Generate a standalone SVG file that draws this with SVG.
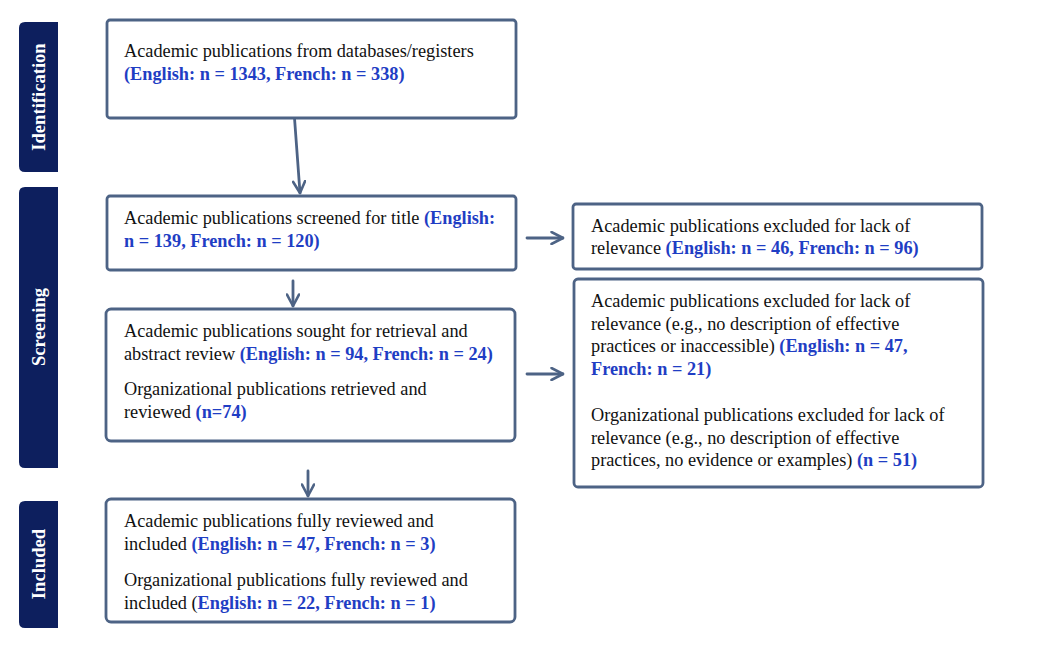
<svg xmlns="http://www.w3.org/2000/svg" width="1041" height="660" viewBox="0 0 1041 660">
<style>
.bar{fill:#0d1f5e}
.bt{font-family:"Liberation Serif","Times New Roman",serif;font-size:18.6px;font-weight:bold;fill:#ffffff;text-anchor:middle}
.box{fill:#ffffff;stroke:#4d6385;stroke-width:2.8}
.t{font-family:"Liberation Serif","Times New Roman",serif;font-size:18.3px;fill:#111111}
.b{font-weight:bold;fill:#1f3ec4}
.c{fill:none;stroke:#4d6385;stroke-width:2.8;stroke-linecap:round;stroke-linejoin:round}
</style>
<defs>
<marker id="ah" viewBox="0 0 14 14" refX="13" refY="7" markerWidth="14" markerHeight="14" markerUnits="userSpaceOnUse" orient="auto">
<path d="M1.5,1 L13,7 L1.5,13" fill="none" stroke="#4d6385" stroke-width="2.6" stroke-linecap="round" stroke-linejoin="round"/>
</marker>
</defs>
<rect width="1041" height="660" fill="#ffffff"/>

<g id="stage-identification">
<path class="bar" d="M58,22 V172 H25 Q19,172 19,166 V28 Q19,22 25,22 Z"/>
<text class="bt" transform="translate(44.5,97) rotate(-90)">Identification</text>
</g>
<g id="stage-screening">
<path class="bar" d="M58,187 V468 H25 Q19,468 19,462 V193 Q19,187 25,187 Z"/>
<text class="bt" transform="translate(44.5,327) rotate(-90)">Screening</text>
</g>
<g id="stage-included">
<path class="bar" d="M58,501 V628 H25 Q19,628 19,622 V507 Q19,501 25,501 Z"/>
<text class="bt" transform="translate(44.5,564) rotate(-90)">Included</text>
</g>

<g id="connectors">
<line class="c" x1="294.5" y1="118" x2="300" y2="193" marker-end="url(#ah)"/>
<line class="c" x1="527" y1="238" x2="563" y2="238" marker-end="url(#ah)"/>
<line class="c" x1="293" y1="281" x2="293" y2="306" marker-end="url(#ah)"/>
<line class="c" x1="527" y1="374" x2="563" y2="374" marker-end="url(#ah)"/>
<line class="c" x1="308" y1="471" x2="308" y2="496" marker-end="url(#ah)"/>
</g>

<g id="node-identified">
<rect class="box" x="107" y="20" width="409" height="98" rx="3"/>
<text class="t" x="124" y="57">Academic publications from databases/registers</text>
<text class="t b" x="124" y="80">(English: n = 1343, French: n = 338)</text>
</g>

<g id="node-screened-title">
<rect class="box" x="107" y="196" width="409" height="74" rx="3"/>
<text class="t" x="124" y="224">Academic publications screened for title <tspan class="b">(English:</tspan></text>
<text class="t b" x="124" y="247">n = 139, French: n = 120)</text>
</g>

<g id="node-excluded-title">
<rect class="box" x="573" y="204" width="409" height="65" rx="3"/>
<text class="t" x="591" y="232">Academic publications excluded for lack of</text>
<text class="t" x="591" y="254">relevance <tspan class="b">(English: n = 46, French: n = 96)</tspan></text>
</g>

<g id="node-retrieval">
<rect class="box" x="106" y="309" width="409" height="132" rx="5"/>
<text class="t" x="124" y="337">Academic publications sought for retrieval and</text>
<text class="t" x="124" y="360">abstract review <tspan class="b">(English: n = 94, French: n = 24)</tspan></text>
<text class="t" x="124" y="395">Organizational publications retrieved and</text>
<text class="t" x="124" y="418">reviewed <tspan class="b">(n=74)</tspan></text>
</g>

<g id="node-excluded-review">
<rect class="box" x="574" y="279" width="409" height="208" rx="4"/>
<text class="t" x="591" y="307">Academic publications excluded for lack of</text>
<text class="t" x="591" y="330">relevance (e.g., no description of effective</text>
<text class="t" x="591" y="352">practices or inaccessible) <tspan class="b">(English: n = 47,</tspan></text>
<text class="t b" x="591" y="375">French: n = 21)</text>
<text class="t" x="591" y="421">Organizational publications excluded for lack of</text>
<text class="t" x="591" y="444">relevance (e.g., no description of effective</text>
<text class="t" x="591" y="466">practices, no evidence or examples) <tspan class="b">(n = 51)</tspan></text>
</g>

<g id="node-included">
<rect class="box" x="106" y="499" width="409" height="123" rx="5"/>
<text class="t" x="124" y="527">Academic publications fully reviewed and</text>
<text class="t" x="124" y="550">included <tspan class="b">(English: n = 47, French: n = 3)</tspan></text>
<text class="t" x="124" y="586">Organizational publications fully reviewed and</text>
<text class="t" x="124" y="609">included (<tspan class="b">English: n = 22, French: n = 1)</tspan></text>
</g>
</svg>
